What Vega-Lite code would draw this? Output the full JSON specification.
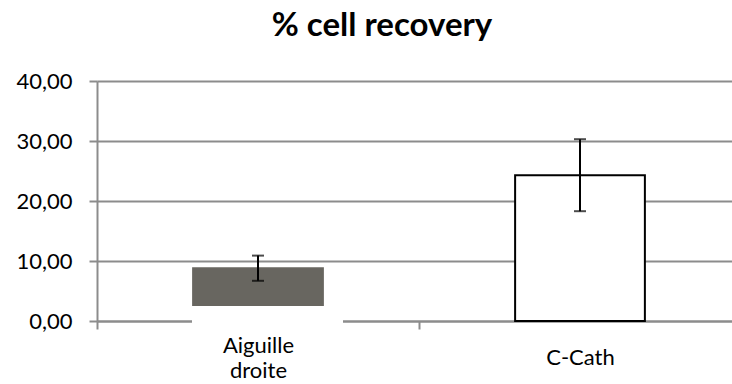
{
  "$schema": "https://vega.github.io/schema/vega-lite/v6.json",
  "autosize": "none",
  "width": 644,
  "height": 240,
  "padding": {"left": 97, "top": 81, "right": 0, "bottom": 63},
  "background": "white",
  "title": {
    "text": "% cell recovery",
    "font": "Lato",
    "fontSize": 33,
    "fontWeight": "bold",
    "color": "#000000",
    "anchor": "middle",
    "dx": -37,
    "offset": 27
  },
  "config": {
    "view": {"stroke": null},
    "font": "Lato"
  },
  "data": {
    "values": [
      {"method": "Aiguille droite", "recovery": 8.8, "err_lo": 6.7, "err_hi": 10.9, "group": "gray"},
      {"method": "C-Cath", "recovery": 24.3, "err_lo": 18.3, "err_hi": 30.3, "group": "white"}
    ]
  },
  "encoding": {
    "x": {
      "field": "method",
      "type": "nominal",
      "sort": null,
      "scale": {"paddingInner": 0, "paddingOuter": 0},
      "axis": {
        "title": null,
        "labelAngle": 0,
        "bandPosition": 0,
        "ticks": true,
        "tickBand": "extent",
        "tickSize": 8,
        "tickColor": "#8c8c8c",
        "tickWidth": 2,
        "domainColor": "#8c8c8c",
        "domainWidth": 2,
        "labelFont": "Lato",
        "labelFontSize": 22,
        "labelColor": "#000000",
        "labelPadding": {"condition": {"test": "datum.value == 'C-Cath'", "value": 28}, "value": 16},
        "labelBaseline": "middle",
        "labelLineHeight": 25,
        "labelExpr": "datum.value == 'Aiguille droite' ? ['Aiguille', 'droite'] : datum.value"
      }
    }
  },
  "layer": [
    {
      "mark": {"type": "bar", "width": {"band": 0.403}, "strokeWidth": 2},
      "encoding": {
        "y": {
          "field": "recovery",
          "type": "quantitative",
          "scale": {"domain": [0, 40], "nice": false},
          "axis": {
            "title": null,
            "values": [0, 10, 20, 30, 40],
            "grid": true,
            "gridColor": "#8c8c8c",
            "gridWidth": 2,
            "domainColor": "#8c8c8c",
            "domainWidth": 2,
            "tickColor": "#8c8c8c",
            "tickWidth": 2,
            "tickSize": 8,
            "labelFont": "Lato",
            "labelFontSize": 22,
            "labelColor": "#000000",
            "labelPadding": 17,
            "labelExpr": "replace(format(datum.value, '.2f'), '.', ',')"
          }
        },
        "fill": {
          "field": "group",
          "type": "nominal",
          "scale": {"domain": ["gray", "white"], "range": ["#686660", "#ffffff"]},
          "legend": null
        },
        "stroke": {
          "field": "group",
          "type": "nominal",
          "scale": {"domain": ["gray", "white"], "range": ["#686660", "#000000"]},
          "legend": null
        }
      }
    },
    {
      "mark": {"type": "rect", "color": "white", "width": 151, "xOffset": 9.5},
      "encoding": {
        "x": {"datum": "Aiguille droite", "bandPosition": 0.5},
        "y": {"datum": 2.5},
        "y2": {"datum": -0.6}
      }
    },
    {
      "mark": {"type": "rule", "color": "#000000", "strokeWidth": 2},
      "encoding": {
        "y": {"field": "err_lo", "type": "quantitative"},
        "y2": {"field": "err_hi"}
      }
    },
    {
      "mark": {"type": "tick", "color": "#000000", "size": 12, "thickness": 2},
      "encoding": {
        "y": {"field": "err_lo", "type": "quantitative"}
      }
    },
    {
      "mark": {"type": "tick", "color": "#000000", "size": 12, "thickness": 2},
      "encoding": {
        "y": {"field": "err_hi", "type": "quantitative"}
      }
    }
  ]
}
